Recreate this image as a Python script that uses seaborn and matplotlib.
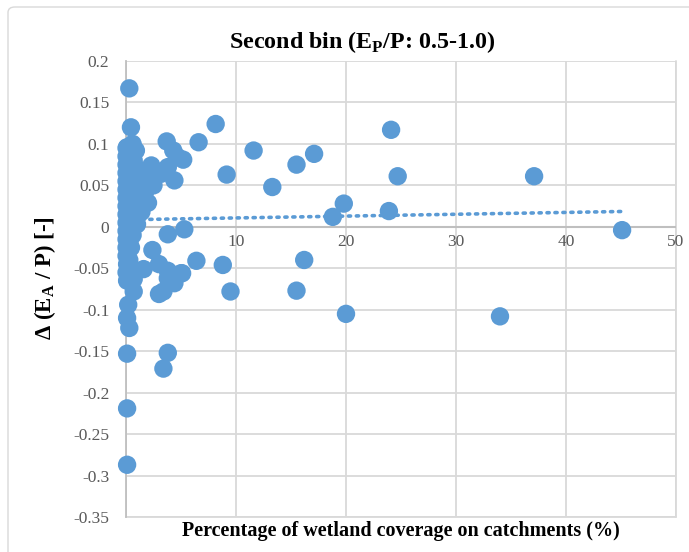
import matplotlib
matplotlib.use("Agg")
import matplotlib.pyplot as plt
from matplotlib.patches import FancyBboxPatch
import pandas as pd
import seaborn as sns

# Wetland coverage (%) and change in evaporative index for catchments in the second bin
wetland_pct = [
    # dense group of catchments with almost no wetland
    0.05, 0.05, 0.05, 0.05, 0.05, 0.05, 0.05, 0.05, 0.05, 0.05, 0.05, 0.05, 0.05, 0.05, 0.05,
    0.3, 0.3, 0.3, 0.3, 0.3, 0.3, 0.3, 0.3, 0.3, 0.3, 0.3, 0.3, 0.3,
    0.6, 0.6, 0.6, 0.6, 0.6, 0.6, 0.6, 0.6, 0.6, 0.6, 0.6,
    1.0, 1.0, 1.0, 1.0, 1.0, 1.0, 1.0,
    1.4, 1.4, 1.4, 1.4, 1.4,
    1.8, 1.8,
    # remaining catchments
    0.3, 0.45, 0.1, 0.9, 0.7, 1.4, 2.3, 2.5, 2.0, 3.2, 3.8, 4.3, 4.7, 5.2, 4.4,
    3.7, 6.6, 8.15, 11.6, 9.15, 13.3, 15.5, 17.1, 24.1, 24.7, 19.8, 18.8, 23.9,
    37.1, 45.1, 34.0,
    5.3, 6.4, 8.8, 16.2, 9.5, 15.5, 20.0, 5.1,
    0.1, 3.8, 3.4, 0.1, 0.1, 0.2, 0.1, 0.3, 0.7, 3.0, 3.4, 4.4, 5.0,
    1.6, 2.4, 3.0, 3.8, 3.8, 0.1, 0.1, 0.7, 0.45, 3.8,
]
delta_ea_p = [
    0.095, 0.085, 0.075, 0.065, 0.055, 0.045, 0.035, 0.025, 0.015, 0.005, -0.005, -0.015, -0.025, -0.035, -0.055,
    0.090, 0.078, 0.068, 0.058, 0.048, 0.038, 0.028, 0.018, 0.008, -0.002, -0.012, -0.020, -0.040,
    0.100, 0.085, 0.072, 0.062, 0.050, 0.040, 0.030, 0.020, 0.010, 0.000, -0.010,
    0.070, 0.060, 0.045, 0.035, 0.022, 0.012, 0.003,
    0.065, 0.052, 0.040, 0.030, 0.018,
    0.058, 0.044,
    0.167, 0.120, 0.096, 0.092, 0.080, 0.064, 0.074, 0.050, 0.029, 0.064, 0.072, 0.092, 0.084, 0.081, 0.056,
    0.103, 0.102, 0.124, 0.092, 0.063, 0.048, 0.075, 0.088, 0.117, 0.061, 0.028, 0.012, 0.019,
    0.061, -0.004, -0.108,
    -0.003, -0.041, -0.046, -0.040, -0.078, -0.077, -0.105, -0.056,
    -0.153, -0.152, -0.171, -0.219, -0.287, -0.094, -0.110, -0.122, -0.078, -0.081, -0.078, -0.068, -0.056,
    -0.051, -0.028, -0.045, -0.053, -0.062, -0.045, -0.065, -0.063, -0.025, -0.009,
]

# linear trendline end points
trend_x = [0.0, 45.1]
trend_y = [0.0085, 0.0185]

x_ticks = [0, 10, 20, 30, 40, 50]
y_ticks = [0.2, 0.15, 0.1, 0.05, 0, -0.05, -0.1, -0.15, -0.2, -0.25, -0.3, -0.35]

df = pd.DataFrame({"wetland": wetland_pct, "delta": delta_ea_p})
trend = pd.DataFrame({"wetland": trend_x, "delta": trend_y})

sns.set_theme(style="white")
plt.rcParams["font.family"] = ["Liberation Serif", "DejaVu Serif"]
plt.rcParams["mathtext.fontset"] = "custom"
plt.rcParams["mathtext.rm"] = "Liberation Serif"
plt.rcParams["mathtext.bf"] = "Liberation Serif:bold"

W, H, DPI = 689, 552, 100
fig = plt.figure(figsize=(W / DPI, H / DPI), dpi=DPI)
fig.patch.set_facecolor("white")

# chart frame
frame = FancyBboxPatch((8 / W, -0.05), 1.2, 1.05 - 7 / H,
                       boxstyle="round,pad=0,rounding_size=0.01",
                       transform=fig.transFigure, fill=False,
                       edgecolor="#D9D9D9", linewidth=1.0)
fig.patches.append(frame)

left, right, top, bottom = 126, 676, 61, 517
ax = fig.add_axes([left / W, 1 - bottom / H, (right - left) / W, (bottom - top) / H])

grid_col = "#D9D9D9"
ax.set_xlim(0, 50)
ax.set_ylim(-0.35, 0.2)
ax.set_xticks(x_ticks)
ax.set_yticks(y_ticks)
ax.grid(True, color=grid_col, linewidth=1.3)
ax.set_axisbelow(True)
for s in ["top", "right", "bottom"]:
    ax.spines[s].set_visible(False)
ax.spines["left"].set_color("#BFBFBF")
ax.spines["left"].set_linewidth(1.3)
ax.axhline(0, color="#BFBFBF", linewidth=1.5, zorder=1)
ax.plot([0, 50], [-0.35, -0.35], color=grid_col, lw=1.3, clip_on=False, zorder=0)
ax.plot([50, 50], [-0.35, 0.2], color=grid_col, lw=1.3, clip_on=False, zorder=0)

blue = "#5B9BD5"
sns.scatterplot(data=df, x="wetland", y="delta", ax=ax, color=blue, s=175,
                edgecolor="none", linewidth=0, zorder=3, legend=False,
                clip_on=False)
sns.lineplot(data=trend, x="wetland", y="delta", ax=ax, color=blue,
             linestyle=(0, (0.6, 1.6)), linewidth=2.6,
             dash_capstyle="round", zorder=4, legend=False)

ax.set_xlabel("")
ax.set_ylabel("")
tick_col = "#595959"
ax.tick_params(axis="y", length=0, labelsize=12.5, labelcolor=tick_col, pad=12)
ax.set_yticklabels([f"{v:g}" for v in y_ticks])
ax.tick_params(axis="x", length=0, labelbottom=False)
for xv in x_ticks:
    ax.text(xv, -0.0085, f"{xv}", ha="center", va="top", fontsize=12.5,
            color=tick_col, zorder=2)

fig.text(362 / W, 1 - 42 / H, r"Second bin (E$_{\mathbf{P}}$/P: 0.5-1.0)",
         ha="center", va="center", fontsize=17.3, fontweight="bold", color="black")
fig.text(45 / W, 1 - 278 / H, r"Δ (E$_{\mathbf{A}}$ / P) [-]", rotation=90,
         ha="center", va="center", fontsize=16.5, fontweight="bold", color="black")
fig.text(401 / W, 1 - 531 / H, "Percentage of wetland coverage on catchments (%)",
         ha="center", va="center", fontsize=14.5, fontweight="bold", color="black")

fig.savefig("out.png", dpi=DPI)
